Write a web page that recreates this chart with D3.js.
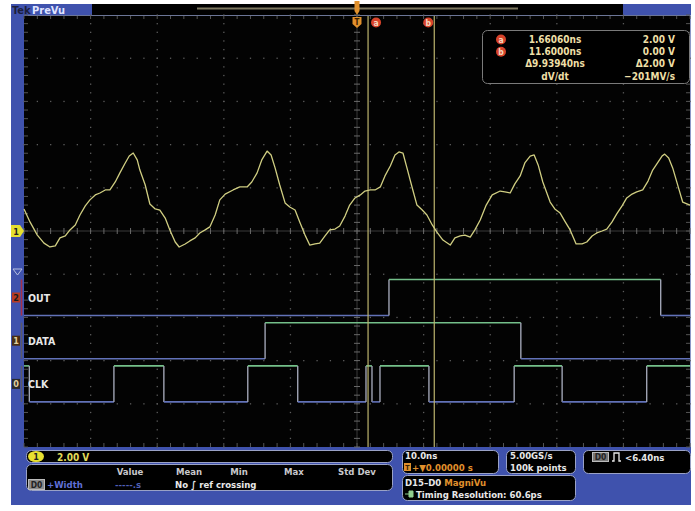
<!DOCTYPE html>
<html>
<head>
<meta charset="utf-8">
<script src="https://cdn.jsdelivr.net/npm/d3@7"></script>
<style>
body { margin: 0; background: #fff; }
svg text { font-family: "DejaVu Sans Condensed", "DejaVu Sans", sans-serif; font-stretch: condensed; font-weight: 700; }
</style>
</head>
<body>
<div id="scope"></div>
<script>
// channel 1 analog trace: time in ns, level in volts
var ch1Time = [-50.0, -49.1, -48.0, -47.0, -46.1, -45.3, -44.6, -43.8, -43.1, -42.3, -41.6, -40.8, -40.1, -39.3, -38.6, -37.8, -37.1, -36.3, -35.6, -34.8,
  -34.2, -33.6, -33.0, -32.6, -31.8, -31.1, -30.3, -29.6, -28.8, -28.1, -27.3, -26.7, -25.8, -25.1, -24.3, -23.6, -22.8, -22.1, -21.3, -20.6,
  -19.8, -18.6, -17.6, -16.5, -15.8, -15.0, -14.3, -13.5, -12.9, -12.3, -11.6, -10.8, -10.1, -9.3, -8.6, -7.8, -7.1, -6.3, -5.6, -4.8,
  -4.1, -3.3, -2.6, -1.8, -1.1, -0.3, 0.5, 1.2, 2.0, 2.7, 3.5, 4.2, 5.0, 5.7, 6.3, 6.9, 7.5, 8.3, 9.0, 9.8,
  10.5, 11.3, 12.0, 12.9, 14.0, 14.7, 15.5, 16.2, 17.0, 17.7, 18.5, 19.4, 20.3, 21.5, 22.2, 23.0, 23.7, 24.5, 25.2, 26.0,
  26.6, 27.2, 27.9, 29.0, 29.7, 30.5, 31.2, 32.0, 32.9, 33.8, 34.5, 35.3, 36.0, 36.8, 37.5, 38.3, 39.0, 39.8, 40.5, 41.3,
  42.0, 42.9, 43.7, 44.4, 45.2, 45.8, 46.2, 46.8, 47.4, 48.2, 48.9, 50.0];
var ch1Volts = [1.02, 0.42, -0.19, -0.56, -0.74, -0.69, -0.32, -0.23, 0.05, 0.28, 0.74, 1.16, 1.44, 1.67, 1.76, 1.90, 1.90, 2.27, 2.69, 3.15,
  3.47, 3.61, 3.29, 2.82, 2.13, 1.25, 1.02, 0.97, 0.60, 0.05, -0.51, -0.74, -0.60, -0.46, -0.32, -0.09, 0.05, 0.19, 0.74, 1.44,
  1.71, 1.90, 2.04, 2.04, 2.27, 2.69, 3.29, 3.70, 3.52, 2.92, 2.13, 1.30, 1.11, 0.97, 0.42, -0.19, -0.65, -0.60, -0.56, -0.23,
  0.05, 0.09, 0.23, 0.69, 1.20, 1.53, 1.67, 1.85, 1.90, 1.90, 2.04, 2.55, 3.01, 3.52, 3.66, 3.61, 2.92, 1.99, 1.20, 0.97,
  0.74, 0.28, -0.05, -0.42, -0.65, -0.32, -0.23, -0.19, -0.28, 0.05, 0.51, 1.20, 1.67, 1.85, 1.81, 1.76, 2.18, 2.55, 3.15, 3.47,
  3.52, 3.06, 2.27, 1.34, 1.02, 0.83, 0.46, 0.05, -0.60, -0.60, -0.51, -0.23, -0.09, 0.00, 0.09, 0.42, 0.79, 1.16, 1.53, 1.71,
  1.81, 1.90, 2.31, 2.82, 3.19, 3.47, 3.56, 3.38, 2.92, 2.08, 1.34, 1.20];

// digital channels: names, channel numbers, level at left edge, edge times (ns)
var digNames = ["OUT", "DATA", "CLK"];
var digIds = ["2", "1", "0"];
var digStart = [0, 0, 1];
var digEdges = [
  [4.8, 45.6],
  [-13.8, 24.6],
  [-49.2, -36.5, -29.0, -16.4, -8.9, 1.35, 2.25, 3.45, 10.8, 23.6, 30.8, 43.5]
];

// cursors a and b
var cursorNames = ["a", "b"];
var cursorTime = [1.6606, 11.6];
var cursorVolts = [2.00, 0.00];

// measurement table
var measHeaders = ["Value", "Mean", "Min", "Max", "Std Dev"];

var W = 695, H = 511;
var blue = "#3f52ad", traceColor = "#d0ce82", cursorColor = "#bdb56e",
  hiColor = "#74c08a", loColor = "#6272b8", edgeColor = "#a0a4b4",
  dotColor = "#5c5c5c", readColor = "#eedfa6", orange = "#e0902c", red = "#d8432a";

var svg = d3.select("#scope").append("svg").attr("width", W).attr("height", H);

svg.append("rect").attr("width", W).attr("height", H).attr("fill", "#fff");
svg.append("rect").attr("x", 11).attr("y", 4).attr("width", 680).attr("height", 501).attr("fill", blue);

// 10 ns/div horizontally, 2 V/div vertically
var x = d3.scaleLinear().domain([-50, 50]).range([24, 690]);
var y = d3.scaleLinear().domain([-10, 10]).range([447, 15]);

// top bar
svg.append("rect").attr("x", 92).attr("y", 4).attr("width", 531).attr("height", 11).attr("fill", "#000");
svg.append("line").attr("x1", 197).attr("x2", 518).attr("y1", 8.5).attr("y2", 8.5)
  .attr("stroke", "#7d7860").attr("stroke-width", 2);
svg.append("text").attr("x", 12).attr("y", 13.5).attr("font-size", 11).attr("fill", "#1c1f3c").text("Tek");
svg.append("text").attr("x", 32).attr("y", 13.5).attr("font-size", 11).attr("fill", "#dfe3ff").text("PreVu");

// plot area
svg.append("rect").attr("x", 24).attr("y", 15).attr("width", 666).attr("height", 432).attr("fill", "#030303");
svg.append("line").attr("x1", 24).attr("x2", 690).attr("y1", 15.5).attr("y2", 15.5).attr("stroke", "#6b7596");
svg.append("line").attr("x1", 690.5).attr("x2", 690.5).attr("y1", 15).attr("y2", 447).attr("stroke", "#8c98c8");

// graticule
var grid = svg.append("g");
var xMinor = d3.range(-50, 50.01, 2), yMinor = d3.range(-10, 10.01, 0.4);
x.ticks(10).filter(function(t) { return t > -50 && t < 50 && t !== 0; }).forEach(function(t) {
  yMinor.forEach(function(v) {
    grid.append("rect").attr("x", x(t) - 0.6).attr("y", y(v) - 0.6).attr("width", 1.3).attr("height", 1.3).attr("fill", dotColor);
  });
});
y.ticks(10).filter(function(v) { return v > -10 && v < 10 && v !== 0; }).forEach(function(v) {
  xMinor.forEach(function(t) {
    grid.append("rect").attr("x", x(t) - 0.6).attr("y", y(v) - 0.6).attr("width", 1.3).attr("height", 1.3).attr("fill", dotColor);
  });
});
// center cross with ticks
grid.append("line").attr("x1", 24).attr("x2", 690).attr("y1", y(0)).attr("y2", y(0)).attr("stroke", "#3a3a3a");
grid.append("line").attr("x1", x(0)).attr("x2", x(0)).attr("y1", 15).attr("y2", 447).attr("stroke", "#3a3a3a");
xMinor.forEach(function(t) {
  grid.append("line").attr("x1", x(t)).attr("x2", x(t)).attr("y1", y(0) - 3).attr("y2", y(0) + 3).attr("stroke", "#6a6a6a");
  grid.append("line").attr("x1", x(t)).attr("x2", x(t)).attr("y1", 16).attr("y2", 19).attr("stroke", "#555");
  grid.append("line").attr("x1", x(t)).attr("x2", x(t)).attr("y1", 443).attr("y2", 447).attr("stroke", "#555");
});
yMinor.forEach(function(v) {
  grid.append("line").attr("x1", x(0) - 3).attr("x2", x(0) + 3).attr("y1", y(v)).attr("y2", y(v)).attr("stroke", "#6a6a6a");
  grid.append("line").attr("x1", 24).attr("x2", 28).attr("y1", y(v)).attr("y2", y(v)).attr("stroke", "#555");
  grid.append("line").attr("x1", 686).attr("x2", 690).attr("y1", y(v)).attr("y2", y(v)).attr("stroke", "#555");
});

// digital traces, one row per channel
var rowTop = function(i) { return y(10) + 264.5 + i * 43.2; };
var rowH = 36;
digNames.forEach(function(name, i) {
  var times = [-50].concat(digEdges[i]).concat([50]);
  var g = svg.append("g");
  var level = digStart[i];
  for (var k = 0; k < times.length - 1; k++) {
    var yy = rowTop(i) + (level ? 0 : rowH);
    g.append("line").attr("x1", x(times[k])).attr("x2", x(times[k + 1])).attr("y1", yy).attr("y2", yy)
      .attr("stroke", level ? hiColor : loColor).attr("stroke-width", 1.6);
    if (k < times.length - 2) {
      g.append("line").attr("x1", x(times[k + 1])).attr("x2", x(times[k + 1]))
        .attr("y1", rowTop(i)).attr("y2", rowTop(i) + rowH).attr("stroke", edgeColor).attr("stroke-width", 1.4);
    }
    level = 1 - level;
  }
  var mid = rowTop(i) + rowH / 2;
  g.append("text").attr("x", 28).attr("y", mid + 4).attr("font-size", 10.5).attr("fill", "#e8e8e8").text(name);

  // left strip marker and bracket
  var fill = i === 0 ? "#b83a22" : (i === 1 ? "#4a2e14" : "#2a2a2a");
  g.append("line").attr("x1", 21.5).attr("x2", 21.5).attr("y1", rowTop(i)).attr("y2", rowTop(i) + rowH)
    .attr("stroke", i === 0 ? "#a8304a" : "#5a5a6a").attr("stroke-width", 1.5);
  g.append("rect").attr("x", 12).attr("y", mid - 5).attr("width", 8).attr("height", 10).attr("fill", fill);
  g.append("text").attr("x", 16).attr("y", mid + 3.5).attr("font-size", 9).attr("text-anchor", "middle")
    .attr("fill", i === 0 ? "#1a1a1a" : "#e0d0a0").text(digIds[i]);
});
svg.append("path").attr("d", "M13,269 L22,269 L17.5,275 Z").attr("fill", "none").attr("stroke", "#b8c0e0");

// cursor lines
cursorTime.forEach(function(t) {
  svg.append("line").attr("x1", x(t)).attr("x2", x(t)).attr("y1", 16).attr("y2", 447)
    .attr("stroke", cursorColor).attr("stroke-width", 1.2);
});

// channel 1 trace
var line = d3.line().x(function(d, i) { return x(ch1Time[i]); }).y(function(d) { return y(d); });
svg.append("path").datum(ch1Volts).attr("d", line).attr("fill", "none")
  .attr("stroke", traceColor).attr("stroke-width", 1.3).attr("stroke-linejoin", "round");

// channel 1 ground marker
svg.append("path").attr("d", "M11," + (y(0) - 6) + " L20," + (y(0) - 6) + " L24," + y(0) + " L20," + (y(0) + 6) + " L11," + (y(0) + 6) + " Z")
  .attr("fill", "#e6e030");
svg.append("text").attr("x", 16).attr("y", y(0) + 3.5).attr("font-size", 9).attr("text-anchor", "middle").attr("fill", "#222").text("1");

// trigger position markers
svg.append("path").attr("d", "M" + (x(0) - 2.5) + ",1 h5 v10 l-2.5,4 l-2.5,-4 Z").attr("fill", orange);
svg.append("path").attr("d", "M" + (x(0) - 4.5) + ",17 h9 v7 l-4.5,4 l-4.5,-4 Z").attr("fill", orange);
svg.append("text").attr("x", x(0)).attr("y", 25).attr("font-size", 8).attr("text-anchor", "middle").attr("fill", "#3a2000").text("T");

// cursor labels at the top
var labelX = [x(cursorTime[0]) + 8, x(cursorTime[1]) - 6];
cursorNames.forEach(function(n, i) {
  svg.append("circle").attr("cx", labelX[i]).attr("cy", 22.5).attr("r", 5).attr("fill", red);
  svg.append("text").attr("x", labelX[i]).attr("y", 25.5).attr("font-size", 8.5).attr("text-anchor", "middle").attr("fill", "#f4d8c0").text(n);
});

// cursor readout
var dt = cursorTime[1] - cursorTime[0];
var dv = cursorVolts[0] - cursorVolts[1];
var slope = (cursorVolts[1] - cursorVolts[0]) / (dt * 1e-9);
var readRows = [
  [cursorTime[0].toPrecision(6) + "ns", cursorVolts[0].toFixed(2) + " V"],
  [cursorTime[1].toPrecision(6) + "ns", cursorVolts[1].toFixed(2) + " V"],
  ["\u0394" + dt.toPrecision(6) + "ns", "\u0394" + dv.toFixed(2) + " V"],
  ["dV/dt", (slope < 0 ? "\u2212" : "") + Math.abs(Math.round(slope / 1e6)) + "MV/s"]
];
var rd = svg.append("g");
rd.append("rect").attr("x", 482.5).attr("y", 30.5).attr("width", 207).attr("height", 53).attr("rx", 5)
  .attr("fill", "#000").attr("stroke", "#7a7a7a");
readRows.forEach(function(r, i) {
  var yy = 43 + i * 12.2;
  if (i < 2) {
    rd.append("circle").attr("cx", 501).attr("cy", yy - 3.5).attr("r", 5).attr("fill", red);
    rd.append("text").attr("x", 501).attr("y", yy - 0.5).attr("font-size", 8.5).attr("text-anchor", "middle").attr("fill", "#f4d8c0").text(cursorNames[i]);
  }
  rd.append("text").attr("x", 555).attr("y", yy).attr("font-size", 10).attr("text-anchor", "middle").attr("fill", readColor).text(r[0]);
  rd.append("text").attr("x", 675).attr("y", yy).attr("font-size", 10).attr("text-anchor", "end").attr("fill", readColor).text(r[1]);
});

// bottom panels
var panel = function(px, py, pw, ph) {
  return svg.append("rect").attr("x", px + 0.5).attr("y", py + 0.5).attr("width", pw).attr("height", ph).attr("rx", 5)
    .attr("fill", "#000").attr("stroke", "#9aa2c6");
};
panel(26, 450, 366, 12);
panel(26, 464, 366, 26);
panel(402, 450, 96, 23);
panel(506, 450, 69, 23);
panel(583, 450, 107, 23);
panel(402, 475, 173, 25);

// channel 1 scale
svg.append("ellipse").attr("cx", 36).attr("cy", 456.5).attr("rx", 8).attr("ry", 5.5).attr("fill", "#e8e030");
svg.append("text").attr("x", 36).attr("y", 460).attr("font-size", 9).attr("text-anchor", "middle").attr("fill", "#222").text("1");
svg.append("text").attr("x", 57).attr("y", 460.5).attr("font-size", 10).attr("fill", "#e2dc5a").text("2.00 V");

// measurement table
var headX = [130, 189, 239, 294, 357];
measHeaders.forEach(function(h, i) {
  svg.append("text").attr("x", headX[i]).attr("y", 475).attr("font-size", 9.5).attr("text-anchor", "middle")
    .attr("fill", "#c8c8cc").text(h);
});
svg.append("rect").attr("x", 28.5).attr("y", 479.5).attr("width", 16).attr("height", 10).attr("fill", "#8a8a8a").attr("stroke", "#bbb");
svg.append("text").attr("x", 36.5).attr("y", 488).attr("font-size", 8.5).attr("text-anchor", "middle").attr("fill", "#222").text("D0");
svg.append("text").attr("x", 47).attr("y", 487.5).attr("font-size", 9.5).attr("fill", "#5f6fd6").text("+Width");
svg.append("text").attr("x", 115).attr("y", 487.5).attr("font-size", 9.5).attr("fill", "#4f5fb6").text("-----.s");
svg.append("text").attr("x", 175).attr("y", 487.5).attr("font-size", 9.5).attr("fill", "#e8e8e8").text("No \u222B ref crossing");

// horizontal scale
svg.append("text").attr("x", 405).attr("y", 459).attr("font-size", 9.5).attr("fill", "#e8e8e8").text("10.0ns");
svg.append("rect").attr("x", 404).attr("y", 463).attr("width", 7).attr("height", 8).attr("fill", orange);
svg.append("text").attr("x", 407.5).attr("y", 470).attr("font-size", 7).attr("text-anchor", "middle").attr("fill", "#3a2000").text("T");
svg.append("text").attr("x", 412).attr("y", 471).attr("font-size", 9.5).attr("fill", orange).text("+\u25BC0.00000 s");

// sample rate
svg.append("text").attr("x", 510).attr("y", 459).attr("font-size", 9.5).attr("fill", "#e8e8e8").text("5.00GS/s");
svg.append("text").attr("x", 510).attr("y", 471).attr("font-size", 9.5).attr("fill", "#e8e8e8").text("100k points");

// trigger readout
svg.append("rect").attr("x", 592.5).attr("y", 452.5).attr("width", 16).attr("height", 9).attr("fill", "#777").attr("stroke", "#bbb");
svg.append("text").attr("x", 600.5).attr("y", 460).attr("font-size", 8.5).attr("text-anchor", "middle").attr("fill", "#222").text("D0");
svg.append("path").attr("d", "M612,461 h2 v-8 h5 v8 h2").attr("fill", "none").attr("stroke", "#e8e8e8").attr("stroke-width", 1.3);
svg.append("text").attr("x", 625).attr("y", 460.5).attr("font-size", 9.5).attr("fill", "#e8e8e8").text("<6.40ns");

// MagniVu panel
var mv = svg.append("text").attr("x", 405).attr("y", 485.5).attr("font-size", 9.5);
mv.append("tspan").attr("fill", "#e8e8e8").text("D15\u2013D0 ");
mv.append("tspan").attr("fill", orange).text("MagniVu");
svg.append("path").attr("d", "M405,494 h4 M409,491 h4 v6 h-4 Z").attr("fill", "#8fcf8f").attr("stroke", "#8fcf8f");
svg.append("text").attr("x", 416).attr("y", 497.5).attr("font-size", 9.5).attr("fill", "#e8e8e8").text("Timing Resolution: 60.6ps");
</script>
</body>
</html>
